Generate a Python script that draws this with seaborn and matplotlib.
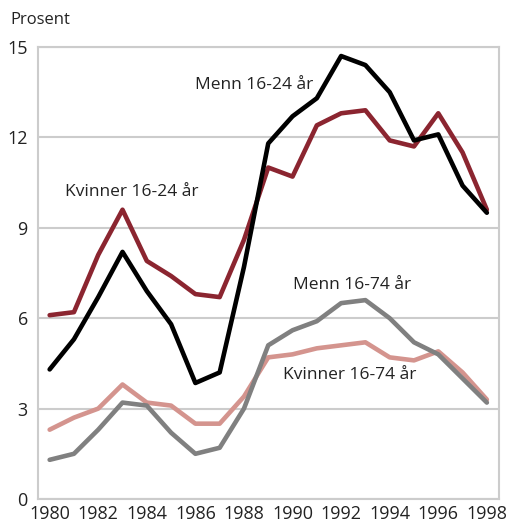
import pandas as pd
import numpy as np

import matplotlib
matplotlib.use('Agg')
import matplotlib.pyplot as plt
from matplotlib.ticker import FixedLocator
import seaborn as sns

years = list(range(1980, 1999))
menn_16_24 = [4.3, 5.3, 6.7, 8.2, 6.9, 5.8, 3.85, 4.2, 7.7, 11.8, 12.7, 13.3, 14.7, 14.4, 13.5, 11.9, 12.1, 10.4, 9.5]
kvinner_16_24 = [6.1, 6.2, 8.1, 9.6, 7.9, 7.4, 6.8, 6.7, 8.6, 11.0, 10.7, 12.4, 12.8, 12.9, 11.9, 11.7, 12.8, 11.5, 9.6]
menn_16_74 = [1.3, 1.5, 2.3, 3.2, 3.1, 2.2, 1.5, 1.7, 3.0, 5.1, 5.6, 5.9, 6.5, 6.6, 6.0, 5.2, 4.8, 4.0, 3.2]
kvinner_16_74 = [2.3, 2.7, 3.0, 3.8, 3.2, 3.1, 2.5, 2.5, 3.4, 4.7, 4.8, 5.0, 5.1, 5.2, 4.7, 4.6, 4.9, 4.2, 3.3]

series_names = ['Kvinner 16-74 år', 'Menn 16-74 år', 'Kvinner 16-24 år', 'Menn 16-24 år']
colors = ['#d4948e', '#808080', '#8b2530', '#000000']

df = pd.DataFrame({
    'year': years * 4,
    'value': kvinner_16_74 + menn_16_74 + kvinner_16_24 + menn_16_24,
    'serie': np.repeat(series_names, len(years)),
})

sns.set_style('white')
plt.rcParams['font.family'] = ['Open Sans', 'DejaVu Sans']

fig = plt.figure(figsize=(5.09, 5.24), dpi=100)
ax = fig.add_axes([37.5 / 509, 1 - 499 / 524, (499 - 37.5) / 509, (499 - 47) / 524])

sns.lineplot(data=df, x='year', y='value', hue='serie', hue_order=series_names,
             palette=dict(zip(series_names, colors)), linewidth=3.3, legend=False,
             ax=ax, zorder=3)

grid_c = '#cccccc'
ax.set_xlim(1979.5, 1998.5)
ax.set_ylim(0, 15)
ax.set_yticks([0, 3, 6, 9, 12, 15])
ax.xaxis.set_major_locator(FixedLocator(years))
ax.set_xticklabels([str(y) if y % 2 == 0 else '' for y in years])
ax.xaxis.set_minor_locator(FixedLocator(list(range(1980, 1999, 3))))
ax.tick_params(axis='x', which='major', direction='in', length=12, width=1.5,
               color=grid_c, labelsize=13, labelcolor='#222222', pad=4)
ax.tick_params(axis='x', which='minor', length=0)
ax.tick_params(axis='y', length=0, labelsize=13, labelcolor='#222222', pad=7)
ax.grid(axis='x', which='minor', color=grid_c, linewidth=1.5)
ax.grid(axis='y', which='major', color=grid_c, linewidth=1.5)
ax.grid(axis='x', which='major', visible=False)
for s in ax.spines.values():
    s.set_color(grid_c)
    s.set_linewidth(1.5)
ax.set_xlabel('')
ax.set_ylabel('')

fig.text(10 / 509, 1 - 20 / 524, 'Prosent', fontsize=12, color='#222222', va='center')

lab_kw = dict(fontsize=12.5, color='#222222', va='center')
ax.text(1986.0, 13.75, 'Menn 16-24 år', **lab_kw)
ax.text(1980.65, 10.2, 'Kvinner 16-24 år', **lab_kw)
ax.text(1990.0, 7.1, 'Menn 16-74 år', **lab_kw)
ax.text(1989.6, 4.1, 'Kvinner 16-74 år', **lab_kw)

fig.savefig('out.png', dpi=100)
